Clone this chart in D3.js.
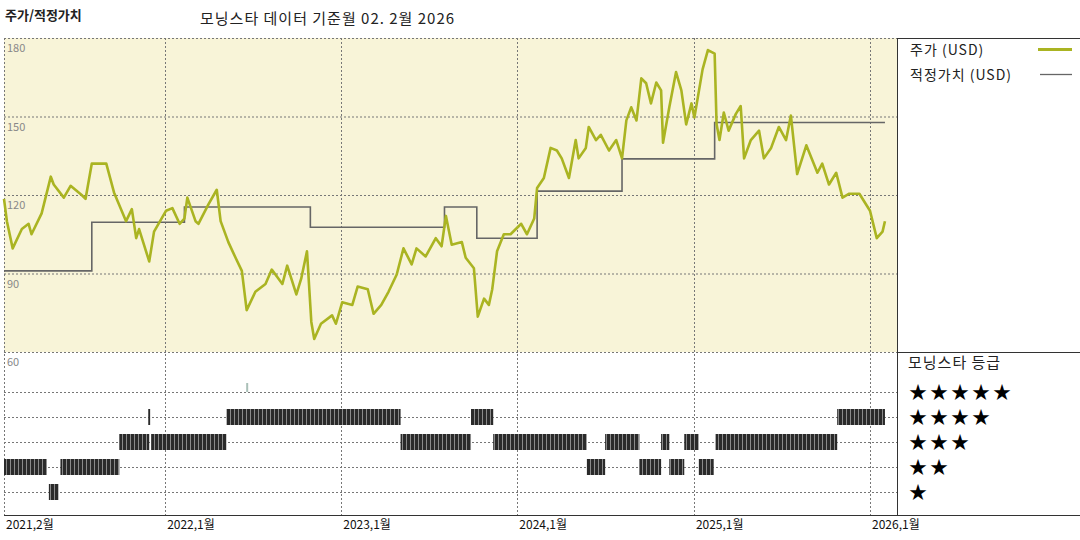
<!DOCTYPE html>
<html><head><meta charset="utf-8">
<script src="https://cdn.jsdelivr.net/npm/d3@7"></script>
<style>body{margin:0;background:#fff}text{font-family:"Noto Sans CJK KR","DejaVu Sans",sans-serif}</style>
</head><body><svg id="c" width="1080" height="540"></svg>
<script>
const priceDates=["2021-02-01","2021-02-07","2021-02-19","2021-03-10","2021-03-24","2021-03-30","2021-04-20","2021-05-09","2021-05-15","2021-06-05","2021-06-19","2021-07-12","2021-07-20","2021-08-02","2021-09-01","2021-09-17","2021-10-12","2021-10-24","2021-11-02","2021-11-08","2021-11-29","2021-12-09","2022-01-03","2022-01-16","2022-01-31","2022-02-10","2022-02-16","2022-03-05","2022-03-11","2022-04-01","2022-04-18","2022-04-26","2022-05-12","2022-05-27","2022-06-09","2022-06-19","2022-07-07","2022-07-28","2022-08-10","2022-09-01","2022-09-11","2022-09-30","2022-10-10","2022-10-22","2022-10-31","2022-11-06","2022-11-20","2022-12-13","2022-12-21","2023-01-03","2023-01-24","2023-02-04","2023-02-25","2023-03-09","2023-03-25","2023-04-09","2023-04-26","2023-05-10","2023-05-27","2023-06-06","2023-06-25","2023-07-16","2023-07-28","2023-08-06","2023-08-18","2023-09-08","2023-09-16","2023-10-03","2023-10-11","2023-10-24","2023-11-03","2023-11-10","2023-11-20","2023-12-04","2023-12-18","2024-01-09","2024-01-21","2024-02-05","2024-02-11","2024-02-25","2024-03-10","2024-03-23","2024-04-02","2024-04-17","2024-05-01","2024-05-07","2024-05-22","2024-05-28","2024-06-12","2024-06-22","2024-07-09","2024-07-24","2024-08-05","2024-08-14","2024-08-24","2024-09-04","2024-09-14","2024-09-24","2024-10-04","2024-10-15","2024-10-25","2024-10-29","2024-11-11","2024-11-25","2024-12-06","2024-12-16","2024-12-27","2025-01-02","2025-01-19","2025-01-30","2025-02-13","2025-02-17","2025-02-23","2025-03-04","2025-03-14","2025-03-29","2025-04-08","2025-04-15","2025-04-29","2025-05-16","2025-05-26","2025-06-10","2025-06-26","2025-07-11","2025-07-21","2025-08-03","2025-08-22","2025-09-14","2025-09-24","2025-10-08","2025-10-23","2025-11-05","2025-11-19","2025-12-10","2026-01-01","2026-01-15","2026-01-27","2026-02-01"];
const priceValues=[118.5,110,99.6,107,109,105,113,127,124,119,123.5,120,118.5,132,132,121,110,114.6,103.5,107,94.6,106,114,115,109,111,119,110,109,116.5,122,110,102,96,91,76,83,86,91.5,86,93,82,88,98.5,71.5,65,70.8,74,70.8,79,78,85,84,74.6,78,83,89.6,99.6,93.5,99.6,96.5,103.5,100.4,112,101,102,96,92,73.5,80.4,78,84,98.5,105,105,109,105,111,122.7,126.5,138,137,134,126.5,141,134,138,146,141,143,137,141,134,148.5,153.5,148.5,164.6,162.7,155,163,160,140,153.5,167,160,147,155,149.6,168,175.4,174,147,141,151.5,144.6,151,154,134,141,144.6,134,138,146,141,150.4,128,139,128.5,132,124,128.5,119,120.5,120.5,114,103.5,106,110];
const fairDates=["2021-02-01","2021-08-02","2022-02-10","2022-10-29","2023-08-03","2023-10-09","2024-02-11","2024-08-05","2025-02-13","2026-02-01"];
const fairValues=[91,109.6,115.4,107.7,115.4,103.5,121.5,133.8,147.7,147.7];
const ratingStart=["2021-02-01","2021-05-05","2021-05-29","2021-09-28","2021-11-27","2021-12-03","2022-05-08","2022-06-18","2023-05-04","2023-09-27","2023-11-12","2024-05-24","2024-07-01","2024-09-10","2024-10-25","2024-11-11","2024-12-12","2025-01-11","2025-02-15","2025-10-25"];
const ratingEnd=["2021-05-01","2021-05-25","2021-09-28","2021-11-29","2021-12-01","2022-05-08","2023-05-04","2022-06-20","2023-09-27","2023-11-12","2024-05-24","2024-07-01","2024-09-10","2024-10-25","2024-11-11","2024-12-12","2025-01-11","2025-02-11","2025-10-25","2026-02-01"];
const ratingStars=[2,1,2,3,4,3,4,5,3,4,3,2,3,2,3,2,3,2,3,4];
const yTicks=[180,150,120,90,60];
const xTickDates=["2021-02-01","2022-01-01","2023-01-01","2024-01-01","2025-01-01","2026-01-01"];
const xTickLabels=["2021,2월","2022,1월","2023,1월","2024,1월","2025,1월","2026,1월"];
const starRows=[5,4,3,2,1];

const P=d3.timeParse("%Y-%m-%d");
const svg=d3.select("#c");
const x=d3.scaleTime().domain([P("2021-02-01"),P("2026-01-01")]).range([4,870]);
const y=d3.scaleLinear().domain([60,180]).range([352,38]);
const yr=d3.scaleLinear().domain([1,5]).range([492,392]);

svg.append("rect").attr("x",4).attr("y",38).attr("width",893).attr("height",314).attr("fill","#f8f4d8");
const defs=svg.append("defs");
const pat=defs.append("pattern").attr("id","hatch").attr("patternUnits","userSpaceOnUse").attr("width",4).attr("height",10);
pat.append("rect").attr("width",4).attr("height",10).attr("fill","#2a2a2a");
pat.append("rect").attr("x",2).attr("width",1).attr("height",10).attr("fill","#8a8a8a");

const g=svg.append("g").attr("stroke","#777").attr("stroke-dasharray","2,2").attr("stroke-width",1);
yTicks.forEach(v=>g.append("line").attr("x1",4).attr("x2",897).attr("y1",y(v)+.5).attr("y2",y(v)+.5));
starRows.forEach(s=>g.append("line").attr("x1",4).attr("x2",897).attr("y1",yr(s)+.5).attr("y2",yr(s)+.5));
xTickDates.forEach(d=>g.append("line").attr("x1",Math.round(x(P(d)))+.5).attr("x2",Math.round(x(P(d)))+.5).attr("y1",38).attr("y2",515));
svg.append("g").selectAll("text").data(yTicks).join("text").attr("x",7).attr("y",v=>y(v)+14)
 .attr("font-size",11).attr("fill","#888").text(d=>d);

svg.append("path").datum(fairDates.map((d,i)=>[P(d),fairValues[i]]))
 .attr("d",d3.line().x(d=>x(d[0])).y(d=>y(d[1])).curve(d3.curveStepAfter))
 .attr("fill","none").attr("stroke","#666").attr("stroke-width",1.6);
svg.append("path").datum(priceDates.map((d,i)=>[P(d),priceValues[i]]))
 .attr("d",d3.line().x(d=>x(d[0])).y(d=>y(d[1])))
 .attr("fill","none").attr("stroke","#aab422").attr("stroke-width",2.6).attr("stroke-linejoin","round");

svg.append("g").selectAll("rect").data(ratingStars.map((s,i)=>({s,a:P(ratingStart[i]),b:P(ratingEnd[i])})))
 .join("rect").attr("x",d=>x(d.a)).attr("width",d=>Math.max(2,x(d.b)-x(d.a)))
 .attr("y",d=>d.s===5?yr(d.s)-9:yr(d.s)-8).attr("height",d=>d.s===5?9:16)
 .attr("fill",d=>d.s===5?"#aac0b8":"url(#hatch)");

const f=svg.append("g").attr("stroke","#333").attr("stroke-width",1);
f.append("line").attr("x1",897.5).attr("x2",897.5).attr("y1",38).attr("y2",515);
f.append("line").attr("x1",897).attr("x2",1080).attr("y1",38.5).attr("y2",38.5);
f.append("line").attr("x1",897).attr("x2",1080).attr("y1",352.5).attr("y2",352.5);
f.append("line").attr("x1",4).attr("x2",1080).attr("y1",515.5).attr("y2",515.5);

svg.append("g").selectAll("text").data(xTickDates).join("text").attr("x",d=>x(P(d))+2).attr("y",529)
 .attr("font-size",12).attr("fill","#111").text((d,i)=>xTickLabels[i]);

svg.append("text").attr("x",5).attr("y",20).attr("font-size",13).attr("font-weight","bold").attr("fill","#222").text("주가/적정가치");
svg.append("text").attr("x",200).attr("y",24).attr("font-size",15).attr("letter-spacing",1).attr("fill","#222").text("모닝스타 데이터 기준월 02. 2월 2026");

svg.append("text").attr("x",910).attr("y",55).attr("font-size",14).attr("letter-spacing",1).attr("fill","#222").text("주가 (USD)");
svg.append("line").attr("x1",1038).attr("x2",1072).attr("y1",49.5).attr("y2",49.5).attr("stroke","#aab422").attr("stroke-width",3);
svg.append("text").attr("x",910).attr("y",80).attr("font-size",14).attr("letter-spacing",1).attr("fill","#222").text("적정가치 (USD)");
svg.append("line").attr("x1",1040).attr("x2",1072).attr("y1",74.5).attr("y2",74.5).attr("stroke","#666").attr("stroke-width",1.3);
svg.append("text").attr("x",908).attr("y",368).attr("font-size",15).attr("letter-spacing",1).attr("fill","#222").text("모닝스타 등급");
svg.append("g").selectAll("text").data(starRows).join("text").attr("x",909).attr("y",s=>yr(s)+7)
 .attr("font-size",18).attr("letter-spacing",3).attr("font-family","DejaVu Sans").attr("fill","#000").text(s=>"★".repeat(s));
</script></body></html>
